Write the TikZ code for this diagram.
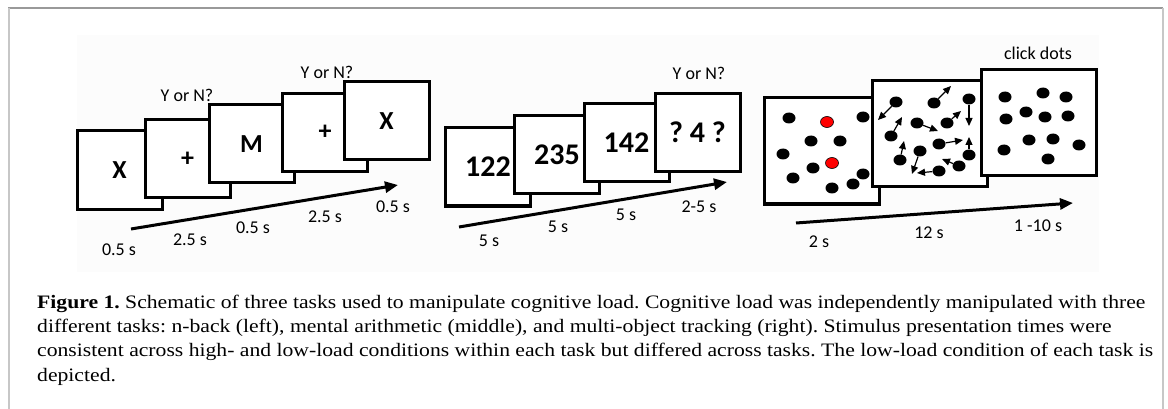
\documentclass[tikz,border=0pt]{standalone}
\usepackage{fontspec}
\setmainfont[FakeStretch=1.14]{Liberation Serif}
\newfontfamily\labelfont{Carlito}
\usetikzlibrary{arrows.meta,shapes.geometric}
\frenchspacing

\begin{document}
\begin{tikzpicture}[x=1pt,y=-1pt,
    card/.style={draw,line width=3pt,fill=white,inner sep=0pt},
    smallcard/.style={card,minimum width=85pt,minimum height=78pt,font=\labelfont\bfseries\fontsize{26}{28}\selectfont},
    numcard/.style={smallcard,font=\labelfont\bfseries\fontsize{30}{32}\selectfont},
    bigcard/.style={card,minimum width=115pt,minimum height=106pt},
    tag/.style={font=\labelfont\fontsize{18}{20}\selectfont,inner sep=0pt},
    timeline/.style={line width=3pt,-{Triangle[length=13pt,width=11pt]}},
    dot/.style={ellipse,fill=black,minimum width=13pt,minimum height=11pt,inner sep=0pt},
    target/.style={dot,fill=red,draw=black,line width=0.6pt},
    move/.style={line width=1.2pt,-{Triangle[length=8pt,width=7pt]}},
    capline/.style={anchor=base west,inner sep=0pt,font=\fontsize{19}{22}\selectfont}]
  \useasboundingbox (0,0) rectangle (1168,409);

  % Page frame and faint figure panel.
  \fill[black!1] (77,35) rectangle (1099,272);
  \draw[black!40,line width=1.5pt] (8,8) -- (1163,8);
  \draw[black!22,line width=2pt] (8.5,8) -- (8.5,409);
  \draw[black!22,line width=2pt] (1163,8) -- (1163,409);

  % n-back task.
  \node[smallcard] (nb1) at (119.5,170) {X};
  \node[smallcard] (nb2) at (187.5,159) {+};
  \node[smallcard] (nb3) at (251.5,144) {M};
  \node[smallcard] (nb4) at (325,132.5) {+};
  \node[smallcard] (nb5) at (386.5,121) {X};
  \node[tag] (nbq1) at (187,95) {Y or N?};
  \node[tag] (nbq2) at (327,72) {Y or N?};
  \coordinate (nbstart) at (131,229);
  \coordinate (nbend) at (398,185);
  \draw[timeline] (nbstart) -- (nbend);
  \node[tag] (nbt1) at (119,250) {0.5 s};
  \node[tag] (nbt2) at (190,240) {2.5 s};
  \node[tag] (nbt3) at (253,228) {0.5 s};
  \node[tag] (nbt4) at (325,217) {2.5 s};
  \node[tag] (nbt5) at (393,207) {0.5 s};

  % Mental arithmetic task.
  \node[numcard] (ma1) at (488,167) {122};
  \node[numcard] (ma2) at (557,154.5) {235};
  \node[numcard] (ma3) at (626.5,143) {142};
  \node[numcard] (ma4) at (697.5,132.5) {? 4 ?};
  \node[tag] (maq) at (699,73) {Y or N?};
  \coordinate (mastart) at (459,227);
  \coordinate (maend) at (727,182);
  \draw[timeline] (mastart) -- (maend);
  \node[tag] (mat1) at (489,241) {5 s};
  \node[tag] (mat2) at (558,227) {5 s};
  \node[tag] (mat3) at (626,215) {5 s};
  \node[tag] (mat4) at (699,207) {2-5 s};

  % Multi-object tracking task.
  \node[bigcard] (mot1) at (822,151) {};
  \foreach \x/\y [count=\i] in {789/118,863/117,811/141,840/141,783/154,813/168,793/178,832/188,853/184,863/174}
    \node[dot] (cue\i) at (\x,\y) {};
  \node[target] (red1) at (827,122) {};
  \node[target] (red2) at (832,163) {};

  \node[bigcard] (mot2) at (929.5,133.5) {};
  \foreach \x/\y/\ex/\ey [count=\i] in {896/102/878/120, 934/103/951/86, 969/99/969/126,
      917/123/938/131, 947/123/961/111, 891/136/902/117, 939/144/963/140, 920/151/912/174,
      900/160/904/141, 969/155/969/137, 939/171/917/173, 959/166/942/159} {
    \node[dot] (trk\i) at (\x,\y) {};
    \coordinate (go\i) at (\ex,\ey);
    \draw[move] (trk\i) -- (go\i);
  }

  \node[bigcard] (mot3) at (1039,122.5) {};
  \foreach \x/\y [count=\i] in {1005/97,1043/93,1066/97,1026/112,1045/117,1068/116,1006/119,1029/140,1053/139,1079/145,1004/150,1048/159}
    \node[dot] (rsp\i) at (\x,\y) {};
  \node[tag] (motq) at (1038,53) {click dots};
  \coordinate (motstart) at (796,223);
  \coordinate (motend) at (1073,203);
  \draw[timeline] (motstart) -- (motend);
  \node[tag] (mott1) at (819,242) {2 s};
  \node[tag] (mott2) at (929,233) {12 s};
  \node[tag] (mott3) at (1038,226) {1 -10 s};

  % Caption.
  \node[capline] (cap1) at (37,308) {\textbf{Figure 1.} Schematic of three tasks used to manipulate cognitive load. Cognitive load was independently manipulated with three};
  \node[capline] (cap2) at (37,332) {different tasks: n-back (left), mental arithmetic (middle), and multi-object tracking (right). Stimulus presentation times were};
  \node[capline] (cap3) at (37,356) {consistent across high- and low-load conditions within each task but differed across tasks. The low-load condition of each task is};
  \node[capline] (cap4) at (37,381) {depicted.};
\end{tikzpicture}
\end{document}
